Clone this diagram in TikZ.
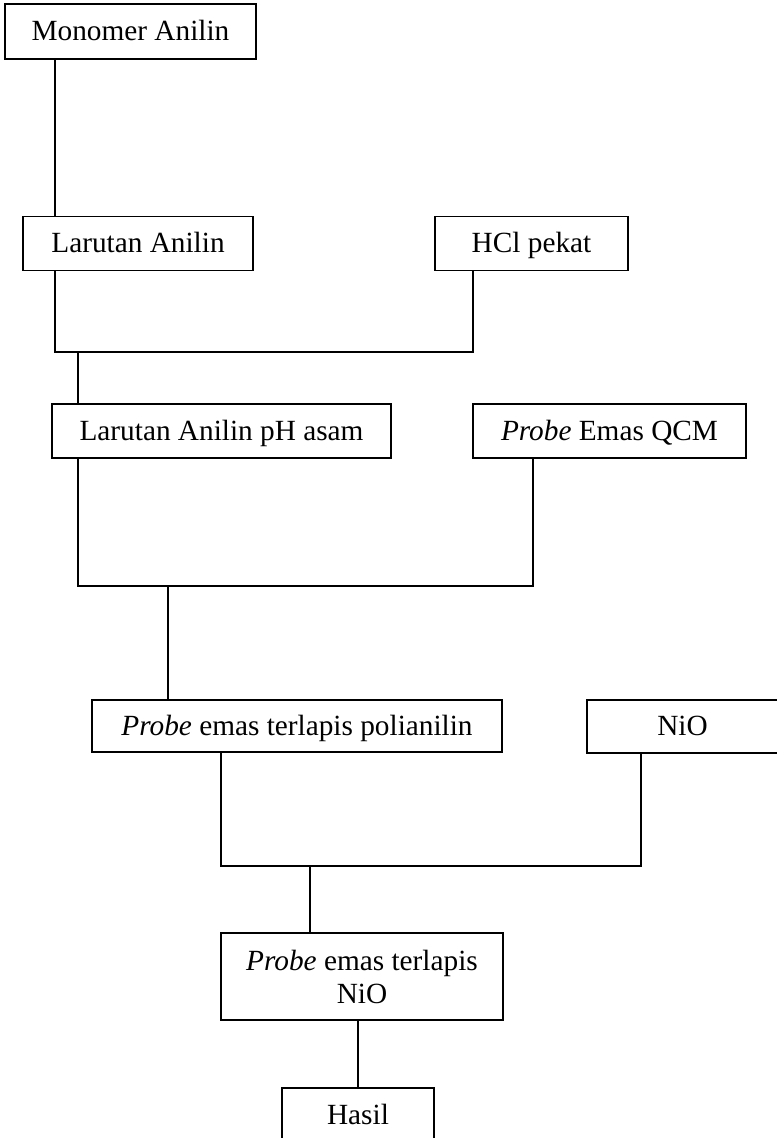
\documentclass[tikz,border=0pt]{standalone}
\usepackage{fontspec}
\setmainfont{Liberation Serif}
\begin{document}
\begin{tikzpicture}[x=0.03cm,y=-0.03cm,
    box/.style={draw,rectangle,line width=1.1pt,inner sep=0pt,align=center,
        font=\fontsize{25}{28.2}\selectfont},
    cell/.style={box,text height=16.2pt,text depth=0pt},
    sz/.style 2 args={minimum width=#1*0.03cm,minimum height=#2*0.03cm},
    link/.style={line width=1.1pt}]
    \useasboundingbox (0,0) rectangle (776,1138);

    %Boxes
    \node[cell,sz={251}{55}] (mono) at (130.5,31.5) {Monomer Anilin};
    \node[cell,sz={230}{54}] (larut) at (138,243.5) {Larutan Anilin};
    \node[cell,sz={193}{54}] (hcl) at (531.5,243.5) {HCl pekat};
    \node[cell,sz={339}{54}] (asam) at (221.5,431) {Larutan Anilin pH asam};
    \node[cell,sz={273}{54}] (qcm) at (609.5,431) {\textit{Probe} Emas QCM};
    \node[cell,sz={410}{52}] (poli) at (297,726) {\textit{Probe} emas terlapis polianilin};
    \node[cell,sz={191}{53}] (nio) at (682.5,726.5) {NiO};
    \node[box,sz={282}{87}] (pnio) at (362,976.5) {\textit{Probe} emas terlapis\\NiO};
    \node[cell,sz={152}{54}] (hasil) at (358,1115) {Hasil};

    %Junction points
    \coordinate (a1) at (55,352);
    \coordinate (a2) at (473,352);
    \coordinate (a3) at (78,352);
    \coordinate (b1) at (78,586);
    \coordinate (b2) at (533,586);
    \coordinate (b3) at (168,586);
    \coordinate (c1) at (221,866);
    \coordinate (c2) at (641,866);
    \coordinate (c3) at (310,866);
    \coordinate (d1) at (358,0);

    %Monomer to larutan
    \draw[link] (mono.south -| a1) -- (larut.north -| a1);

    %Larutan + HCl
    \draw[link] (larut.south -| a1) -- (a1) -- (a2) -- (hcl.south -| a2);
    \draw[link] (a3) -- (asam.north -| a3);

    %pH asam + probe QCM
    \draw[link] (asam.south -| b1) -- (b1) -- (b2) -- (qcm.south -| b2);
    \draw[link] (b3) -- (poli.north -| b3);

    %Polianilin + NiO
    \draw[link] (poli.south -| c1) -- (c1) -- (c2) -- (nio.south -| c2);
    \draw[link] (c3) -- (pnio.north -| c3);

    %Hasil
    \draw[link] (pnio.south -| d1) -- (hasil.north -| d1);

\end{tikzpicture}
\end{document}
